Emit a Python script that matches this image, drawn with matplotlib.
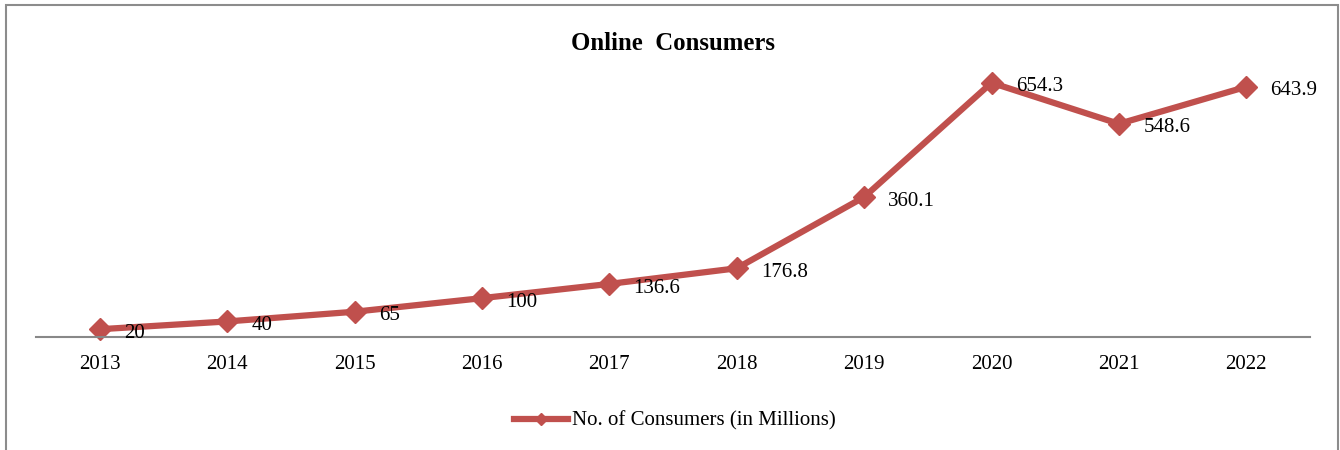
import matplotlib
matplotlib.use("Agg")
import matplotlib.pyplot as plt
from matplotlib.patches import Rectangle
from matplotlib.lines import Line2D

years = ["2013", "2014", "2015", "2016", "2017", "2018", "2019", "2020", "2021", "2022"]
consumers = [20, 40, 65, 100, 136.6, 176.8, 360.1, 654.3, 548.6, 643.9]
labels = ["20", "40", "65", "100", "136.6", "176.8", "360.1", "654.3", "548.6", "643.9"]

W, H = 1340, 450
fig = plt.figure(figsize=(W / 100, H / 100), dpi=100)
plt.rcParams['font.family'] = ['Liberation Serif', 'DejaVu Serif']

color = "#C0504D"
# axes in pixel coordinates
x0, x1 = 36, 1310
y_bottom, y_top = 337, 65
ax = fig.add_axes([x0 / W, 1 - y_bottom / H, (x1 - x0) / W, (y_bottom - y_top) / H])
xs = list(range(len(years)))
ax.plot(xs, consumers, color=color, lw=4.5, marker="D", markersize=11.5,
        markeredgecolor=color, markerfacecolor=color, solid_joinstyle="miter", clip_on=False)
ax.set_xlim(-0.5, len(years) - 0.5)
ax.set_ylim(0, 700)
ax.set_xticks(xs)
ax.set_xticklabels(years, fontsize=15)
ax.tick_params(axis="x", length=0, pad=13)
ax.set_yticks([])
for s in ["top", "right", "left"]:
    ax.spines[s].set_visible(False)
ax.spines["bottom"].set_color("#888888")
ax.spines["bottom"].set_linewidth(1.5)

for x, v, t in zip(xs, consumers, labels):
    ax.annotate(t, (x, v), xytext=(17.5, -3), textcoords="offset points",
                ha="left", va="center", fontsize=15, color="black")

fig.text(673 / W, 1 - 43.5 / H, "Online  Consumers", ha="center", va="center",
         fontsize=17.8, fontweight="bold")

# legend
handle = Line2D([], [], color=color, lw=4.5, marker="D", markersize=6,
                markerfacecolor=color, markeredgecolor=color)
fig.legend([handle], ["No. of Consumers (in Millions)"], loc="center",
           bbox_to_anchor=(675 / W, 1 - 421 / H), frameon=False, fontsize=15,
           handlelength=2.6, handletextpad=0.2)

# chart border
fig.patches.append(Rectangle((6 / W, -0.1), (1338 - 6) / W, 1.1 - 5 / H,
                             transform=fig.transFigure, fill=False,
                             edgecolor="#8c8c8c", lw=1.5))

fig.savefig("out.png", dpi=100)
